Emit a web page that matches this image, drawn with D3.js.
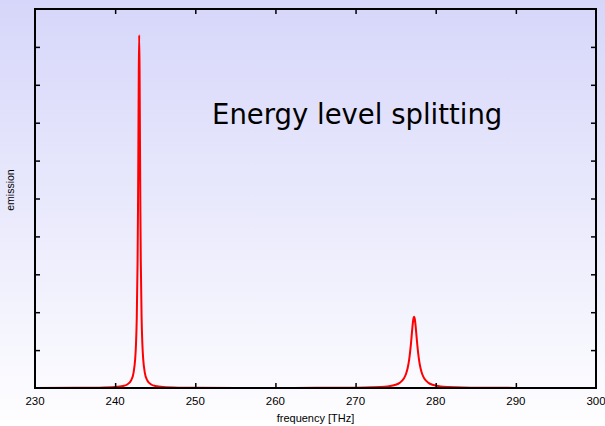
<!DOCTYPE html>
<html><head><meta charset="utf-8">
<script src="https://cdn.jsdelivr.net/npm/d3@7"></script>
<style>html,body{margin:0;padding:0;background:#fff}svg{display:block}</style>
</head><body><svg id="c" width="605" height="426"></svg>
<script>
// Data
const freq = [230,235,238,240,241,241.5,242,242.3,242.5,242.6,242.7,242.8,242.85,242.9,242.95,243,
  243.05,243.1,243.15,243.2,243.3,243.4,243.5,243.7,244,244.5,245,246,248,250,255,260,265,268,270,272,273,274,275,275.5,276,276.3,276.5,276.7,276.9,277,277.1,277.2,277.3,
  277.4,277.5,277.6,277.7,277.9,278.1,278.3,278.6,279.1,279.6,280.6,281.6,282.6,284.6,287,290,295,300];
const emission = [0.0014,0.0036,0.0087,0.0235,0.052,0.092,0.205,0.408,0.769,1.148,1.862,3.351,4.655,6.447,8.38,9.31,
  8.38,6.447,4.655,3.351,1.862,1.148,0.769,0.408,0.205,0.092,0.052,0.0235,0.009,0.005,0.0024,0.0023,0.0035,0.0057,0.009,0.017,0.025,0.042,0.085,0.135,0.242,0.376,0.528,0.770,1.146,1.382,1.621,1.808,1.88,
  1.808,1.621,1.382,1.146,0.770,0.528,0.376,0.242,0.135,0.085,0.042,0.025,0.017,0.009,0.005,0.0029,0.0015,0.0009];
const xTicks = [230,240,250,260,270,280,290,300];
const yTicks = [1,2,3,4,5,6,7,8,9];
const title = "Energy level splitting";
const xLabel = "frequency [THz]";
const yLabel = "emission";

const svg = d3.select("#c");
const W = 605, H = 426;
const L = 35, R = 596, T = 9, B = 388;

const defs = svg.append("defs");
const g = defs.append("linearGradient").attr("id","bg").attr("x1",0).attr("y1",0).attr("x2",0).attr("y2",1);
g.append("stop").attr("offset","0%").attr("stop-color","#d6d6fa");
g.append("stop").attr("offset","100%").attr("stop-color","#fefeff");
svg.append("rect").attr("width",W).attr("height",H).attr("fill","url(#bg)");

const x = d3.scaleLinear().domain([230,300]).range([L,R]);
const y = d3.scaleLinear().domain([0,10]).range([B,T]);

// curve
const line = d3.line().x((d,i)=>x(freq[i])).y(d=>y(d)).curve(d3.curveMonotoneX);
svg.append("path").datum(emission).attr("d",line)
  .attr("fill","none").attr("stroke","#ff0000").attr("stroke-width",2);

// axes (inward ticks)
const tickStyle = sel => { sel.select(".domain").remove(); sel.selectAll("line").attr("stroke","#000").attr("stroke-width",1.5); };
svg.append("g").attr("transform",`translate(0,${B})`)
  .call(d3.axisTop(x).tickValues(xTicks.slice(1,-1)).tickSize(5).tickFormat(""))
  .call(tickStyle);
svg.append("g").attr("transform",`translate(0,${T})`)
  .call(d3.axisBottom(x).tickValues(xTicks.slice(1,-1)).tickSize(5).tickFormat(""))
  .call(tickStyle);
svg.append("g").attr("transform",`translate(${L},0)`)
  .call(d3.axisRight(y).tickValues(yTicks).tickSize(5).tickFormat(""))
  .call(tickStyle);
svg.append("g").attr("transform",`translate(${R},0)`)
  .call(d3.axisLeft(y).tickValues(yTicks).tickSize(5).tickFormat(""))
  .call(tickStyle);

svg.append("rect").attr("x",L).attr("y",T).attr("width",R-L).attr("height",B-T)
  .attr("fill","none").attr("stroke","#000").attr("stroke-width",2);

// tick labels
svg.append("g").selectAll("text").data(xTicks).join("text")
  .attr("x",d=>x(d)).attr("y",405).attr("text-anchor","middle")
  .attr("font-family","Liberation Sans, Arial, sans-serif").attr("font-size",11.5).attr("fill","#000")
  .text(d=>d);

svg.append("text").attr("x",(L+R)/2).attr("y",422).attr("text-anchor","middle")
  .attr("font-family","Liberation Sans, Arial, sans-serif").attr("font-size",11).attr("fill","#000")
  .text(xLabel);
svg.append("text").attr("transform","translate(14,190) rotate(-90)").attr("text-anchor","middle")
  .attr("font-family","Liberation Sans, Arial, sans-serif").attr("font-size",10.5).attr("fill","#000")
  .text(yLabel);

svg.append("text").attr("x",212).attr("y",123.5)
  .attr("font-family","DejaVu Sans, Verdana, sans-serif").attr("font-size",27.5).attr("fill","#000")
  .text(title);
</script></body></html>
